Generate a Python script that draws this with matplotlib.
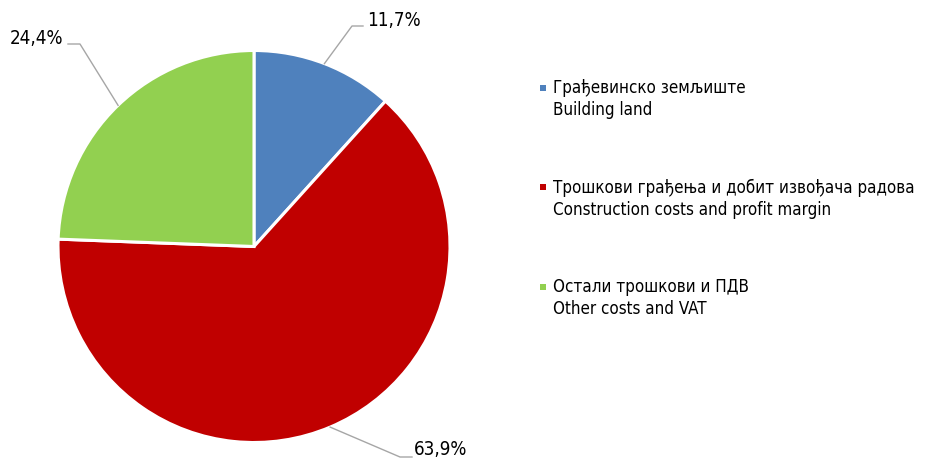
import numpy as np
import matplotlib
matplotlib.use("Agg")
import matplotlib.pyplot as plt
from matplotlib import font_manager
from matplotlib.font_manager import FontProperties
from matplotlib.patches import Rectangle

# data
labels_sr = ["Грађевинско земљиште", "Трошкови грађења и добит извођача радова", "Остали трошкови и ПДВ"]
labels_en = ["Building land", "Construction costs and profit margin", "Other costs and VAT"]
shares = [11.7, 63.9, 24.4]
colors = ["#4F81BD", "#C00000", "#92D050"]

# look for a narrow font (reference uses Arial Narrow), else plain Liberation Sans
def is_regular(f):
    return f.style == "normal" and f.weight in (400, "normal", "regular")

narrow = None
for f in font_manager.fontManager.ttflist:
    if not is_regular(f):
        continue
    if f.name == "Liberation Sans Narrow":
        narrow = f.fname
        break
    if narrow is None and ("Narrow" in f.name or "Condensed" in f.name
                           or f.stretch in ("condensed", "semi-condensed", 75, 87)):
        narrow = f.fname

if narrow:
    val_font = FontProperties(fname=narrow, size=13.5)
    leg_font = FontProperties(fname=narrow, size=12.2)
else:
    val_font = FontProperties(family="Liberation Sans", size=12.8)
    leg_font = FontProperties(family="Liberation Sans", size=12.6)

W, H = 927, 461
fig = plt.figure(figsize=(W / 100, H / 100), dpi=100)
fig.patch.set_facecolor("white")

# pie: centre (254, 246.5) px, radius 196 px
cx, cy, r = 254, 246.5, 196
ax = fig.add_axes([(cx - r) / W, (H - cy - r) / H, 2 * r / W, 2 * r / H])
wedges, _ = ax.pie(shares, colors=colors, startangle=90, counterclock=False,
                   radius=1, wedgeprops=dict(edgecolor="white", linewidth=2.2))
ax.set_xlim(-1, 1)
ax.set_ylim(-1, 1)
ax.set_aspect("auto")
ax.axis("off")

# leader lines and value labels (elbow / text positions in px)
elbows = [((352, 26), (363, 26), (367, 20), "left"),
          ((400, 457), (412, 457), (414, 449), "left"),
          ((80, 44), (68, 44), (63, 38), "right")]

def px(p):
    return ((p[0] - cx) / r, (cy - p[1]) / r)

for w, v, (e1, e2, t, ha) in zip(wedges, shares, elbows):
    mid = np.deg2rad((w.theta1 + w.theta2) / 2)
    p0 = (np.cos(mid), np.sin(mid))
    p1, p2, pt = px(e1), px(e2), px(t)
    ax.plot([p0[0], p1[0], p2[0]], [p0[1], p1[1], p2[1]], color="#A6A6A6",
            lw=1, clip_on=False)
    ax.text(pt[0], pt[1], f"{v:.1f}%".replace(".", ","), ha=ha, va="center",
            fontproperties=val_font, color="#000000", clip_on=False)

# legend
leg_x, leg_y0, leg_dy, line_dy = 553, 88, 99.5, 22
for i, (s, e, c) in enumerate(zip(labels_sr, labels_en, colors)):
    y = leg_y0 + i * leg_dy
    fig.patches.append(Rectangle(((leg_x - 13) / W, (H - y - 3) / H), 6 / W, 6 / H,
                                 transform=fig.transFigure, facecolor=c, edgecolor="none"))
    fig.text(leg_x / W, (H - y) / H, s, ha="left", va="center", fontproperties=leg_font)
    fig.text(leg_x / W, (H - y - line_dy) / H, e, ha="left", va="center",
             fontproperties=leg_font)

fig.savefig("out.png", dpi=100, facecolor="white")
